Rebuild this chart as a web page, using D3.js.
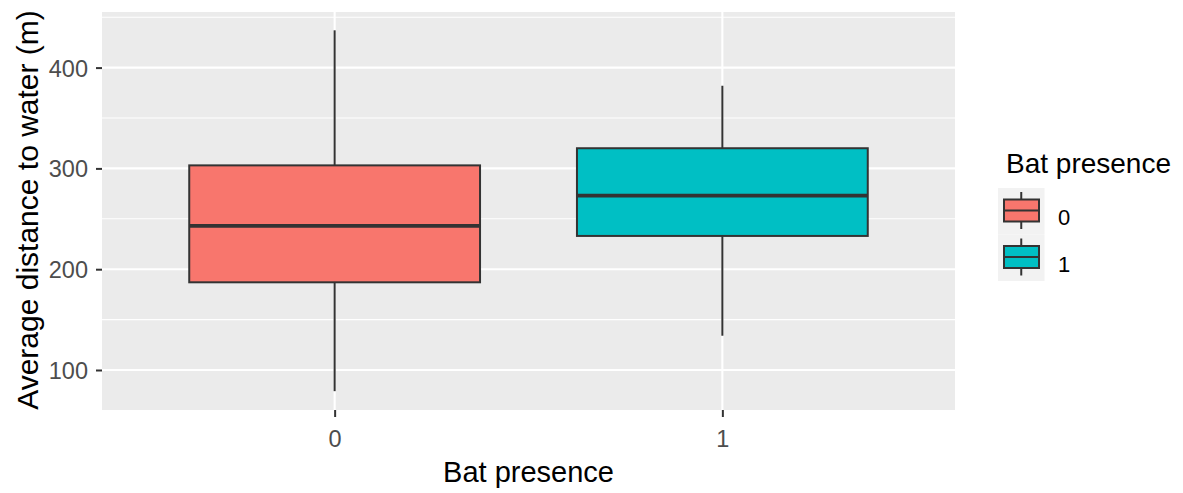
<!DOCTYPE html>
<html>
<head>
<meta charset="utf-8">
<script src="https://cdn.jsdelivr.net/npm/d3@7"></script>
<style>
  body { margin: 0; background: #fff; }
  text { font-family: "Liberation Sans", Arial, sans-serif; }
</style>
</head>
<body>
<div id="chart"></div>
<script>
// data
const groups = ["0", "1"];
const whiskerLow = [79, 134];
const q1 = [187, 233];
const median = [243, 273];
const q3 = [303, 320];
const whiskerHigh = [437, 382];
const colors = ["#F8766D", "#00BFC4"];
const yTicks = [100, 200, 300, 400];
const yMinor = [150, 250, 350, 450];

const W = 1183, H = 493;
const panel = { left: 102, right: 955, top: 12, bottom: 410 };

const svg = d3.select("#chart").append("svg")
  .attr("width", W).attr("height", H);

const y = d3.scaleLinear()
  .domain([100, 400])
  .range([370, 67.6]);

// discrete x with ggplot's 0.6 expansion on each side
const x = d3.scalePoint()
  .domain(groups)
  .range([panel.left + (panel.right - panel.left) * 0.6 / 2.2,
          panel.right - (panel.right - panel.left) * 0.6 / 2.2]);
const step = (panel.right - panel.left) / 2.2;
const boxW = step * 0.75;

svg.append("rect")
  .attr("x", panel.left).attr("y", panel.top)
  .attr("width", panel.right - panel.left)
  .attr("height", panel.bottom - panel.top)
  .attr("fill", "#EBEBEB");

const grid = svg.append("g");
grid.selectAll(".minor").data(yMinor).enter().append("line")
  .attr("x1", panel.left).attr("x2", panel.right)
  .attr("y1", d => y(d)).attr("y2", d => y(d))
  .attr("stroke", "#fff").attr("stroke-width", 1.1);
grid.selectAll(".major").data(yTicks).enter().append("line")
  .attr("x1", panel.left).attr("x2", panel.right)
  .attr("y1", d => y(d)).attr("y2", d => y(d))
  .attr("stroke", "#fff").attr("stroke-width", 2.1);
grid.selectAll(".vmajor").data(groups).enter().append("line")
  .attr("x1", d => x(d)).attr("x2", d => x(d))
  .attr("y1", panel.top).attr("y2", panel.bottom)
  .attr("stroke", "#fff").attr("stroke-width", 2.1);

// boxes
const boxes = svg.selectAll(".box").data(groups).enter().append("g");
boxes.append("line")
  .attr("x1", d => x(d)).attr("x2", d => x(d))
  .attr("y1", (d, i) => y(whiskerHigh[i])).attr("y2", (d, i) => y(q3[i]))
  .attr("stroke", "#333").attr("stroke-width", 2);
boxes.append("line")
  .attr("x1", d => x(d)).attr("x2", d => x(d))
  .attr("y1", (d, i) => y(q1[i])).attr("y2", (d, i) => y(whiskerLow[i]))
  .attr("stroke", "#333").attr("stroke-width", 2);
boxes.append("rect")
  .attr("x", d => x(d) - boxW / 2)
  .attr("width", boxW)
  .attr("y", (d, i) => y(q3[i]))
  .attr("height", (d, i) => y(q1[i]) - y(q3[i]))
  .attr("fill", (d, i) => colors[i])
  .attr("stroke", "#333").attr("stroke-width", 2);
boxes.append("line")
  .attr("x1", d => x(d) - boxW / 2).attr("x2", d => x(d) + boxW / 2)
  .attr("y1", (d, i) => y(median[i])).attr("y2", (d, i) => y(median[i]))
  .attr("stroke", "#333").attr("stroke-width", 3.6);

// axes
const yAxis = svg.append("g")
  .attr("transform", `translate(${panel.left},0)`)
  .call(d3.axisLeft(y).tickValues(yTicks).tickSize(6).tickPadding(8));
const xAxis = svg.append("g")
  .attr("transform", `translate(0,${panel.bottom})`)
  .call(d3.axisBottom(x).tickSize(7));
[yAxis, xAxis].forEach(a => {
  a.select(".domain").remove();
  a.selectAll("line").attr("stroke", "#333").attr("stroke-width", 2);
  a.selectAll("text").attr("fill", "#4D4D4D").style("font-size", "23.5px")
    .style("font-family", "Liberation Sans, Arial, sans-serif");
});
yAxis.selectAll("text").attr("dy", "0.36em");
xAxis.selectAll("text").attr("y", 37).attr("dy", 0);

svg.append("text")
  .attr("transform", `translate(38,${(panel.top + panel.bottom) / 2 - 1}) rotate(-90)`)
  .attr("text-anchor", "middle")
  .style("font-size", "30px")
  .text("Average distance to water (m)");

svg.append("text")
  .attr("x", (panel.left + panel.right) / 2).attr("y", 481.5)
  .attr("text-anchor", "middle")
  .style("font-size", "29px")
  .text("Bat presence");

// legend
const lg = svg.append("g").attr("transform", "translate(998,0)");
lg.append("text").attr("x", 8).attr("y", 173)
  .style("font-size", "28px").text("Bat presence");
const key = lg.selectAll(".key").data(groups).enter().append("g")
  .attr("transform", (d, i) => `translate(0,${188 + i * 46.5})`);
key.append("rect").attr("width", 46.5).attr("height", 46.5).attr("fill", "#F2F2F2");
key.append("line").attr("x1", 23.25).attr("x2", 23.25).attr("y1", 4).attr("y2", 41)
  .attr("stroke", "#333").attr("stroke-width", 2);
key.append("rect").attr("x", 6).attr("y", 11.5).attr("width", 35).attr("height", 22)
  .attr("fill", (d, i) => colors[i]).attr("stroke", "#333").attr("stroke-width", 2);
key.append("line").attr("x1", 6).attr("x2", 41).attr("y1", 22.5).attr("y2", 22.5)
  .attr("stroke", "#333").attr("stroke-width", 2);
key.append("text").attr("x", 60).attr("y", 37)
  .style("font-size", "22px").text(d => d);
</script>
</body>
</html>
